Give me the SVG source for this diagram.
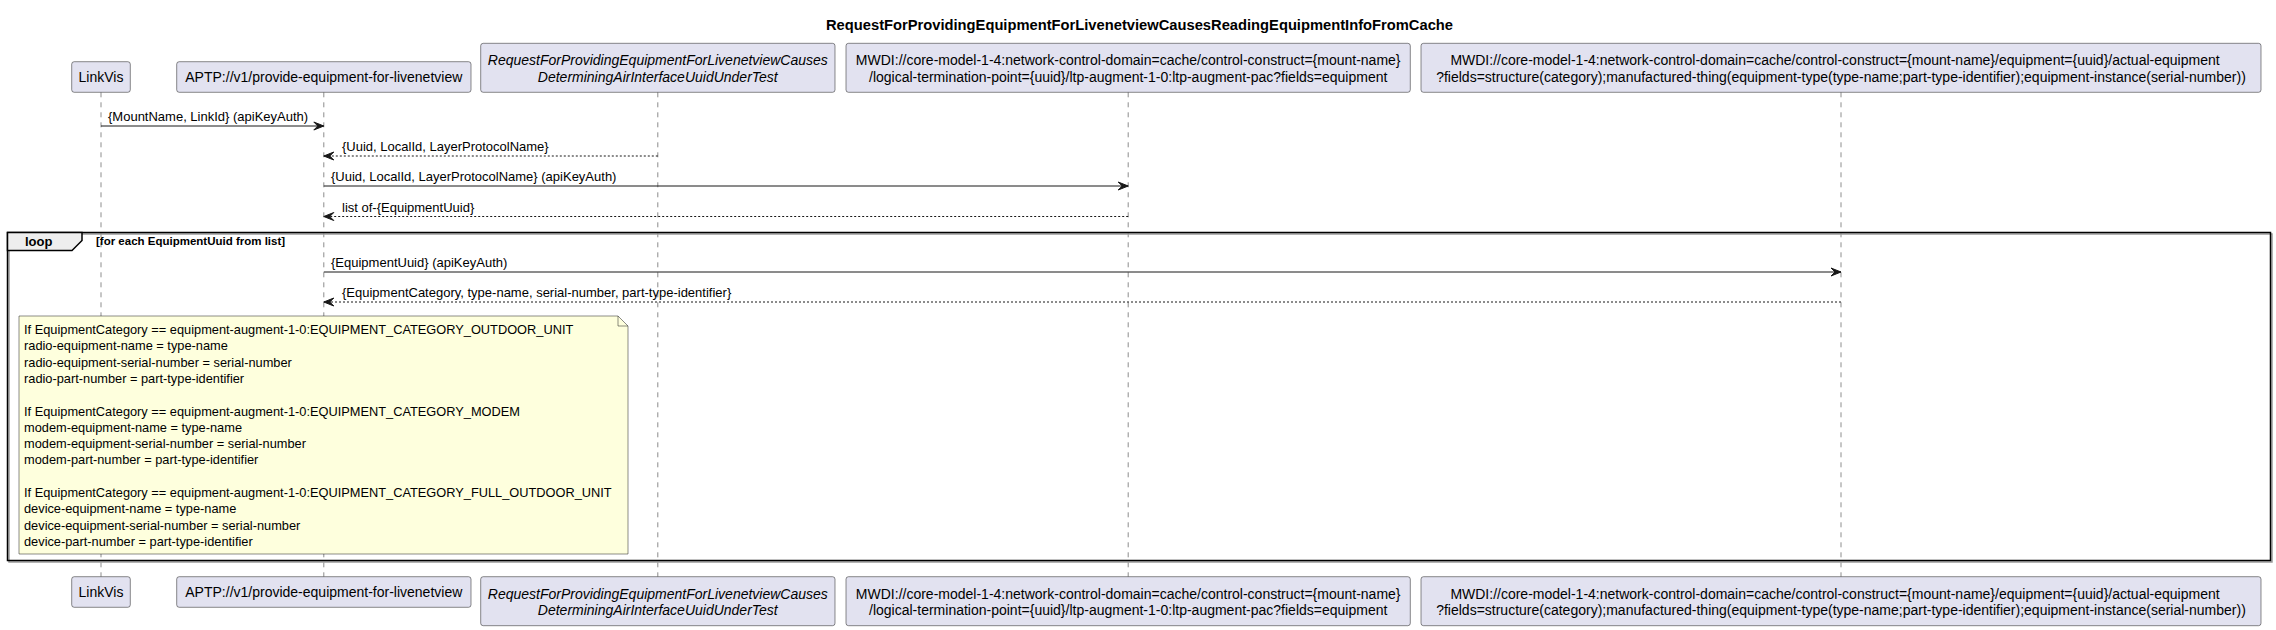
<svg xmlns="http://www.w3.org/2000/svg" width="2276" height="630" viewBox="0 0 2276 630">
<style>
.t{font-family:"Liberation Sans",Arial,sans-serif;fill:#000}
.p{font-size:14px}
.pi{font-size:14px;font-style:italic}
.m{font-size:13px}
.n{font-size:12.8px}
.box{fill:#E2E2F0;stroke:#181818;stroke-width:0.5}
.life{stroke:#181818;stroke-width:0.5;stroke-dasharray:5,5;fill:none}
.msg{stroke:#181818;stroke-width:1;fill:none}
.ret{stroke:#181818;stroke-width:1;fill:none;stroke-dasharray:2,2}
</style>
<defs>
<marker id="ah" viewBox="0 0 12 10" refX="11" refY="5" markerWidth="12" markerHeight="10" markerUnits="userSpaceOnUse" orient="auto">
<polygon points="1,1 11,5 1,9 5,5" fill="#181818" stroke="#181818" stroke-width="1"/>
</marker>
</defs>
<rect width="2276" height="630" fill="#FFFFFF"/>
<text class="t" x="1139.5" y="30" font-size="14" font-weight="bold" text-anchor="middle" textLength="627" lengthAdjust="spacingAndGlyphs">RequestForProvidingEquipmentForLivenetviewCausesReadingEquipmentInfoFromCache</text>

<g id="lifelines">
<line class="life" x1="101" y1="92.3" x2="101" y2="576.7"/>
<line class="life" x1="323.8" y1="92.3" x2="323.8" y2="576.7"/>
<line class="life" x1="657.8" y1="92.3" x2="657.8" y2="576.7"/>
<line class="life" x1="1128.2" y1="92.3" x2="1128.2" y2="576.7"/>
<line class="life" x1="1841" y1="92.3" x2="1841" y2="576.7"/>
</g>

<g id="loop">
<rect x="9" y="234" width="2263" height="328" fill="none" stroke="#9A9A9A" stroke-width="1.5"/>
<rect x="7.5" y="232.5" width="2263" height="328" fill="none" stroke="#000000" stroke-width="1.5"/>
<polygon points="7.5,232.5 82,232.5 82,240.5 72,250.5 7.5,250.5" fill="#EEEEEE" stroke="#000000" stroke-width="1.5"/>
<text class="t" x="25" y="246" font-size="13" font-weight="bold">loop</text>
<text class="t" x="96" y="245" font-size="11.5" font-weight="bold">[for each EquipmentUuid from list]</text>
</g>

<g id="p_linkvis">
<rect class="box" x="71.7" y="61.7" width="58.6" height="30.6" rx="2.5"/>
<text class="t p" x="101" y="81.7" text-anchor="middle">LinkVis</text>
<rect class="box" x="71.7" y="576.7" width="58.6" height="30.6" rx="2.5"/>
<text class="t p" x="101" y="596.7" text-anchor="middle">LinkVis</text>
</g>
<g id="p_aptp">
<rect class="box" x="176.7" y="61.7" width="294.3" height="30.6" rx="2.5"/>
<text class="t p" x="323.8" y="81.7" text-anchor="middle">APTP://v1/provide-equipment-for-livenetview</text>
<rect class="box" x="176.7" y="576.7" width="294.3" height="30.6" rx="2.5"/>
<text class="t p" x="323.8" y="596.7" text-anchor="middle">APTP://v1/provide-equipment-for-livenetview</text>
</g>
<g id="p_request">
<rect class="box" x="480.7" y="43.3" width="354.3" height="49" rx="2.5"/>
<text class="t pi" x="657.8" y="65.4" text-anchor="middle">RequestForProvidingEquipmentForLivenetviewCauses</text>
<text class="t pi" x="657.8" y="81.7" text-anchor="middle">DeterminingAirInterfaceUuidUnderTest</text>
<rect class="box" x="480.7" y="576.7" width="354.3" height="49" rx="2.5"/>
<text class="t pi" x="657.8" y="598.8" text-anchor="middle">RequestForProvidingEquipmentForLivenetviewCauses</text>
<text class="t pi" x="657.8" y="615.1" text-anchor="middle">DeterminingAirInterfaceUuidUnderTest</text>
</g>
<g id="p_mwdi_ltp">
<rect class="box" x="846" y="43.3" width="564.3" height="49" rx="2.5"/>
<text class="t p" x="1128.2" y="65.4" text-anchor="middle">MWDI://core-model-1-4:network-control-domain=cache/control-construct={mount-name}</text>
<text class="t p" x="1128.2" y="81.7" text-anchor="middle">/logical-termination-point={uuid}/ltp-augment-1-0:ltp-augment-pac?fields=equipment</text>
<rect class="box" x="846" y="576.7" width="564.3" height="49" rx="2.5"/>
<text class="t p" x="1128.2" y="598.8" text-anchor="middle">MWDI://core-model-1-4:network-control-domain=cache/control-construct={mount-name}</text>
<text class="t p" x="1128.2" y="615.1" text-anchor="middle">/logical-termination-point={uuid}/ltp-augment-1-0:ltp-augment-pac?fields=equipment</text>
</g>
<g id="p_mwdi_eq">
<rect class="box" x="1421" y="43.3" width="840" height="49" rx="2.5"/>
<text class="t p" x="1835" y="65.4" text-anchor="middle">MWDI://core-model-1-4:network-control-domain=cache/control-construct={mount-name}/equipment={uuid}/actual-equipment</text>
<text class="t p" x="1841" y="81.7" text-anchor="middle">?fields=structure(category);manufactured-thing(equipment-type(type-name;part-type-identifier);equipment-instance(serial-number))</text>
<rect class="box" x="1421" y="576.7" width="840" height="49" rx="2.5"/>
<text class="t p" x="1835" y="598.8" text-anchor="middle">MWDI://core-model-1-4:network-control-domain=cache/control-construct={mount-name}/equipment={uuid}/actual-equipment</text>
<text class="t p" x="1841" y="615.1" text-anchor="middle">?fields=structure(category);manufactured-thing(equipment-type(type-name;part-type-identifier);equipment-instance(serial-number))</text>
</g>

<g id="connectors">
<line class="msg" x1="101" y1="126" x2="323.8" y2="126" marker-end="url(#ah)"/>
<text class="t m" x="108" y="121">{MountName, LinkId} (apiKeyAuth)</text>
<line class="ret" x1="657.8" y1="156" x2="323.8" y2="156" marker-end="url(#ah)"/>
<text class="t m" x="342" y="151">{Uuid, LocalId, LayerProtocolName}</text>
<line class="msg" x1="323.8" y1="186" x2="1128.2" y2="186" marker-end="url(#ah)"/>
<text class="t m" x="331" y="181">{Uuid, LocalId, LayerProtocolName} (apiKeyAuth)</text>
<line class="ret" x1="1128.2" y1="216.5" x2="323.8" y2="216.5" marker-end="url(#ah)"/>
<text class="t m" x="342" y="211.5">list of-{EquipmentUuid}</text>
<line class="msg" x1="323.8" y1="272" x2="1841" y2="272" marker-end="url(#ah)"/>
<text class="t m" x="331" y="267">{EquipmentUuid} (apiKeyAuth)</text>
<line class="ret" x1="1841" y1="302" x2="323.8" y2="302" marker-end="url(#ah)"/>
<text class="t m" x="342" y="297">{EquipmentCategory, type-name, serial-number, part-type-identifier}</text>
</g>

<g id="note">
<path d="M19,316 L618,316 L628,326 L628,554 L19,554 Z" fill="#FEFFDD" stroke="#181818" stroke-width="0.5"/>
<path d="M618,316 L618,326 L628,326" fill="none" stroke="#181818" stroke-width="0.5"/>
<text class="t n" x="24">
<tspan x="24" y="334">If EquipmentCategory == equipment-augment-1-0:EQUIPMENT_CATEGORY_OUTDOOR_UNIT</tspan>
<tspan x="24" y="350.3">radio-equipment-name = type-name</tspan>
<tspan x="24" y="366.6">radio-equipment-serial-number = serial-number</tspan>
<tspan x="24" y="382.9">radio-part-number = part-type-identifier</tspan>
<tspan x="24" y="415.5">If EquipmentCategory == equipment-augment-1-0:EQUIPMENT_CATEGORY_MODEM</tspan>
<tspan x="24" y="431.8">modem-equipment-name = type-name</tspan>
<tspan x="24" y="448.1">modem-equipment-serial-number = serial-number</tspan>
<tspan x="24" y="464.4">modem-part-number = part-type-identifier</tspan>
<tspan x="24" y="497">If EquipmentCategory == equipment-augment-1-0:EQUIPMENT_CATEGORY_FULL_OUTDOOR_UNIT</tspan>
<tspan x="24" y="513.3">device-equipment-name = type-name</tspan>
<tspan x="24" y="529.6">device-equipment-serial-number = serial-number</tspan>
<tspan x="24" y="545.9">device-part-number = part-type-identifier</tspan>
</text>
</g>
</svg>
